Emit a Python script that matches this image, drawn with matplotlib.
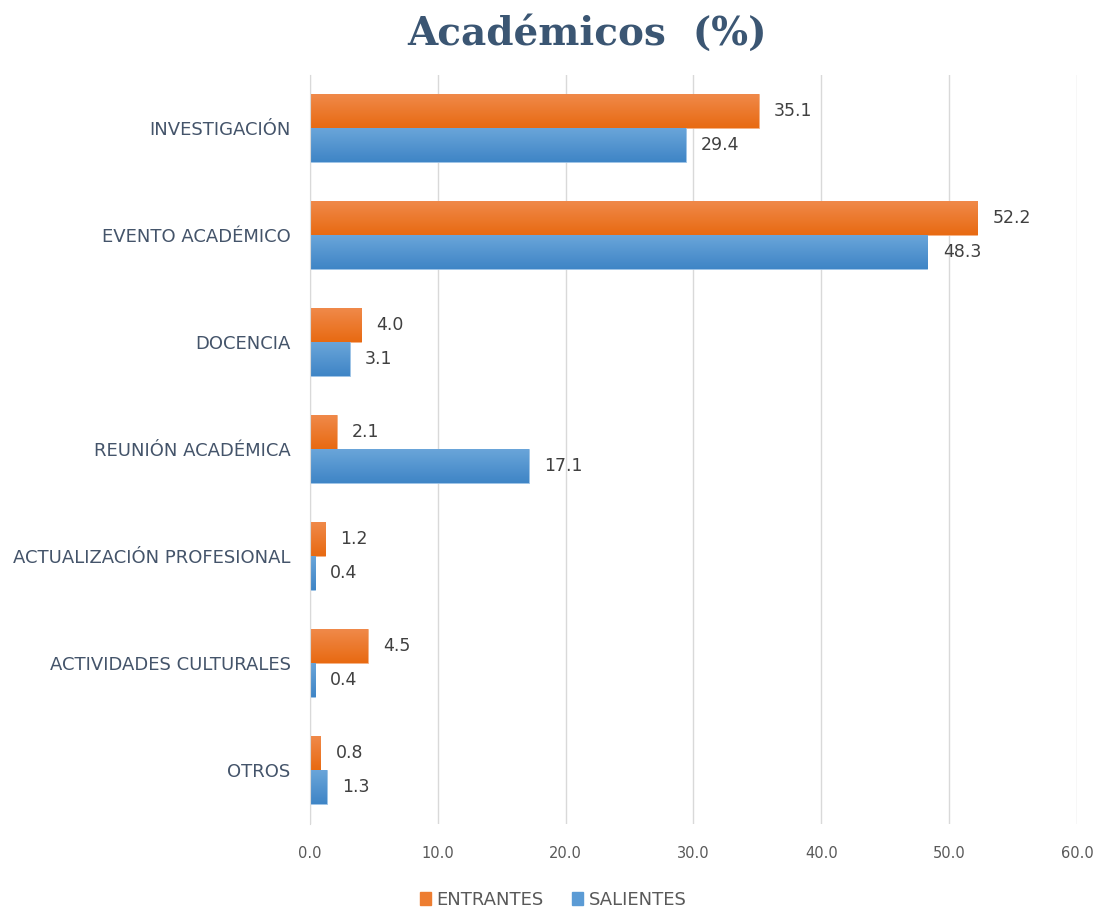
import matplotlib
matplotlib.use("Agg")
import matplotlib.pyplot as plt
import numpy as np
from matplotlib.patches import Patch
from matplotlib.colors import LinearSegmentedColormap

categories = ["INVESTIGACIÓN", "EVENTO ACADÉMICO", "DOCENCIA", "REUNIÓN ACADÉMICA",
              "ACTUALIZACIÓN PROFESIONAL", "ACTIVIDADES CULTURALES", "OTROS"]
entrantes = [35.1, 52.2, 4.0, 2.1, 1.2, 4.5, 0.8]
salientes = [29.4, 48.3, 3.1, 17.1, 0.4, 0.4, 1.3]
xticks = [0, 10, 20, 30, 40, 50, 60]

orange = "#ED7D31"
blue = "#5B9BD5"

fig = plt.figure(figsize=(11, 9.11), dpi=100)
ax = fig.add_axes([0.2818, 0.096, 0.6973, 0.822])

y = np.arange(len(categories))
h = 0.318
bars_e = ax.barh(y - h/2, entrantes, height=h, color=orange, edgecolor="#F4B183", linewidth=0.6, zorder=3)
bars_s = ax.barh(y + h/2, salientes, height=h, color=blue, edgecolor="#9DC3E6", linewidth=0.6, zorder=3)

cm_o = LinearSegmentedColormap.from_list("o", ["#F08A4B", "#E86A12"])
cm_b = LinearSegmentedColormap.from_list("b", ["#6BA6DA", "#3F85C6"])
grad = np.linspace(0, 1, 64).reshape(-1, 1)
for bars, cmap in ((bars_e, cm_o), (bars_s, cm_b)):
    for b in bars:
        x0, y0 = b.get_x(), b.get_y()
        w, hh = b.get_width(), b.get_height()
        im = ax.imshow(grad, cmap=cmap, aspect="auto", origin="upper",
                       extent=(x0, x0 + w, y0 + hh, y0), zorder=3.5)
        im.set_clip_path(b)

for yi, v in zip(y, entrantes):
    ax.annotate(f"{v:.1f}", (v, yi - h/2), xytext=(11, 0), textcoords="offset points",
                va="center", ha="left", fontsize=12.5, color="#404040")
for yi, v in zip(y, salientes):
    ax.annotate(f"{v:.1f}", (v, yi + h/2), xytext=(11, 0), textcoords="offset points",
                va="center", ha="left", fontsize=12.5, color="#404040")

ax.set_ylim(len(categories) - 0.5, -0.5)
ax.set_xlim(0, 60)
ax.set_yticks(y)
ax.set_yticklabels(categories, fontsize=13, color="#44546A")
ax.set_xticks(xticks)
ax.set_xticklabels([f"{t:.1f}" for t in xticks], fontsize=10.5, color="#595959")
ax.tick_params(axis="both", length=0)
ax.tick_params(axis="y", pad=14)
ax.tick_params(axis="x", pad=16)
ax.grid(axis="x", color="#D9D9D9", linewidth=1, zorder=0)
for s in ["top", "right", "bottom"]:
    ax.spines[s].set_visible(False)
ax.spines["left"].set_color("#D9D9D9")
ax.spines["left"].set_zorder(4)

fig.text(0.534, 0.963, "Académicos  (%)", ha="center", va="center", fontsize=28,
         fontweight="bold", family="DejaVu Serif", color="#3B5673")

handles = [Patch(color=orange, label="ENTRANTES"), Patch(color=blue, label="SALIENTES")]
fig.legend(handles=handles, loc="center", bbox_to_anchor=(0.503, 0.012), ncol=2, frameon=False,
           fontsize=13, handlelength=0.6, handleheight=0.7, columnspacing=1.6, handletextpad=0.3,
           labelcolor="#595959")

fig.savefig("out.png", dpi=100)
